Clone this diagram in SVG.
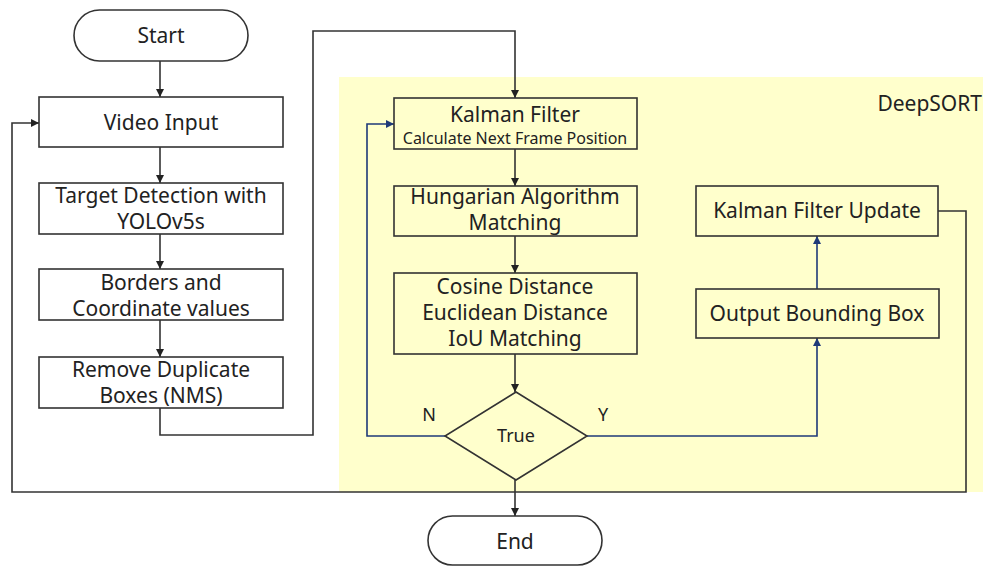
<svg xmlns="http://www.w3.org/2000/svg" width="983" height="566" viewBox="0 0 983 566">
  <style>
    .box { fill: #ffffff; stroke: #333333; stroke-width: 1.6; }
    .ibox { fill: none; stroke: #333333; stroke-width: 1.6; }
    .t { font-family: "Noto Sans", "Open Sans", sans-serif; font-size: 21px; fill: #222222; text-anchor: middle; }
    .s { font-size: 16px; }
    .lbl { font-family: "Noto Sans", "Open Sans", sans-serif; font-size: 18px; fill: #222222; text-anchor: middle; }
    .k { fill: none; stroke: #333333; stroke-width: 1.6; }
    .b { fill: none; stroke: #1f3a78; stroke-width: 1.6; }
  </style>
  <defs>
    <marker id="ak" viewBox="0 0 10 10" refX="10" refY="5" markerWidth="8" markerHeight="8" markerUnits="userSpaceOnUse" orient="auto">
      <path d="M0,0 L10,5 L0,10 z" fill="#222222"/>
    </marker>
    <marker id="ab" viewBox="0 0 10 10" refX="10" refY="5" markerWidth="8" markerHeight="8" markerUnits="userSpaceOnUse" orient="auto">
      <path d="M0,0 L10,5 L0,10 z" fill="#1f3a78"/>
    </marker>
  </defs>

  <rect width="983" height="566" fill="#ffffff"/>

  <!-- DeepSORT region -->
  <g id="deepsort-region">
    <rect x="339" y="77" width="644" height="415" fill="#ffffcc"/>
    <text x="982" y="111" class="t" style="text-anchor:end">DeepSORT</text>
  </g>

  <!-- connectors -->
  <g id="connectors">
    <path class="k" d="M160,61 V97" marker-end="url(#ak)"/>
    <path class="k" d="M160,147 V183" marker-end="url(#ak)"/>
    <path class="k" d="M160,234 V269" marker-end="url(#ak)"/>
    <path class="k" d="M160,320 V357" marker-end="url(#ak)"/>
    <path class="k" d="M160,408 V435 H313 V31 H515 V98" marker-end="url(#ak)"/>
    <path class="k" d="M515,149 V186" marker-end="url(#ak)"/>
    <path class="k" d="M515,236 V273" marker-end="url(#ak)"/>
    <path class="k" d="M515,354 V392" marker-end="url(#ak)"/>
    <path class="b" d="M445,436 H367 V124 H394" marker-end="url(#ab)"/>
    <path class="b" d="M587,436 H817 V338" marker-end="url(#ab)"/>
    <path class="b" d="M817,289 V236" marker-end="url(#ab)"/>
    <path class="k" d="M938,211 H966 V492 H12 V123 H39" marker-end="url(#ak)"/>
    <path class="k" d="M515,480 V516" marker-end="url(#ak)"/>
    <text x="429" y="421" class="lbl">N</text>
    <text x="603" y="421" class="lbl">Y</text>
  </g>

  <g id="start">
    <rect x="74" y="10" width="174" height="51" rx="25.5" class="box"/>
    <text x="161" y="43" class="t">Start</text>
  </g>
  <g id="video-input">
    <rect x="39" y="97" width="244" height="50" class="box"/>
    <text x="161" y="130" class="t">Video Input</text>
  </g>
  <g id="target-detection">
    <rect x="39" y="183" width="244" height="51" class="box"/>
    <text x="161" y="203" class="t">Target Detection with</text>
    <text x="161" y="229" class="t">YOLOv5s</text>
  </g>
  <g id="borders">
    <rect x="39" y="269" width="244" height="51" class="box"/>
    <text x="161" y="290" class="t">Borders and</text>
    <text x="161" y="316" class="t">Coordinate values</text>
  </g>
  <g id="remove-duplicate">
    <rect x="39" y="357" width="244" height="51" class="box"/>
    <text x="161" y="377" class="t">Remove Duplicate</text>
    <text x="161" y="403" class="t">Boxes (NMS)</text>
  </g>

  <g id="kalman-filter">
    <rect x="394" y="98" width="243" height="51" class="ibox"/>
    <text x="515" y="122" class="t">Kalman Filter</text>
    <text x="515" y="144" class="t s">Calculate Next Frame Position</text>
  </g>
  <g id="hungarian">
    <rect x="394" y="186" width="243" height="50" class="ibox"/>
    <text x="515" y="204" class="t">Hungarian Algorithm</text>
    <text x="515" y="230" class="t">Matching</text>
  </g>
  <g id="distance-matching">
    <rect x="394" y="273" width="243" height="81" class="ibox"/>
    <text x="515" y="294" class="t">Cosine Distance</text>
    <text x="515" y="320" class="t">Euclidean Distance</text>
    <text x="515" y="346" class="t">IoU Matching</text>
  </g>
  <g id="true-decision">
    <path d="M516,392 L587,436 L516,480 L445,436 Z" class="ibox"/>
    <text x="516" y="442" class="lbl">True</text>
  </g>
  <g id="output-bbox">
    <rect x="696" y="289" width="243" height="49" class="ibox"/>
    <text x="817" y="321" class="t">Output Bounding Box</text>
  </g>
  <g id="kalman-update">
    <rect x="696" y="186" width="242" height="50" class="ibox"/>
    <text x="817" y="218" class="t">Kalman Filter Update</text>
  </g>
  <g id="end">
    <rect x="428" y="516" width="174" height="49" rx="24.5" class="box"/>
    <text x="515" y="549" class="t">End</text>
  </g>
</svg>
